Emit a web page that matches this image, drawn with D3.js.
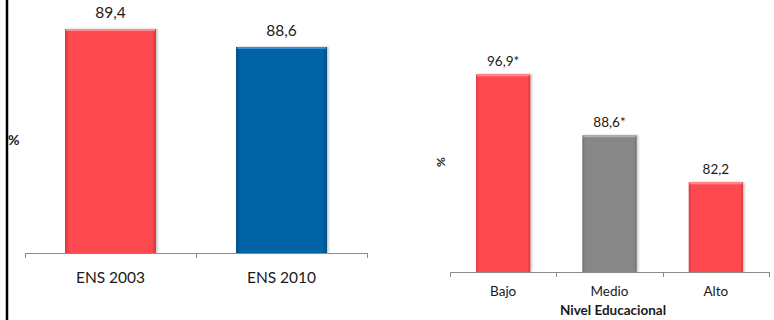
<!DOCTYPE html>
<html>
<head>
<meta charset="utf-8">
<script src="https://cdn.jsdelivr.net/npm/d3@7"></script>
<style>
  html, body { margin: 0; padding: 0; background: #fff; }
  svg { display: block; font-family: Lato, "Open Sans", sans-serif; }
</style>
</head>
<body>
<svg id="chart" width="774" height="320"></svg>
<script>
// Survey comparison (left) and education-level breakdown (right)
const surveyCats = ["ENS 2003", "ENS 2010"];
const surveyVals = [89.4, 88.6];
const surveyLabels = ["89,4", "88,6"];
const surveyColors = ["red", "blue"];

const eduCats = ["Bajo", "Medio", "Alto"];
const eduVals = [96.9, 88.6, 82.2];
const eduLabels = ["96,9*", "88,6*", "82,2"];
const eduColors = ["red", "grey", "red"];

const eduTitle = "Nivel Educacional";
const yTitle = "%";

const svg = d3.select("#chart");

// Bevelled bar fills: a horizontal gradient darker at the edges
const palette = {
  red:  { base: "#ff4a51", edge: "#d9353c", top: "#ff8a8e" },
  blue: { base: "#0563a6", edge: "#044f86", top: "#3a8fd0" },
  grey: { base: "#878787", edge: "#6a6a6a", top: "#b0b0b0" }
};
const defs = svg.append("defs");
Object.entries(palette).forEach(([k, c]) => {
  const g = defs.append("linearGradient").attr("id", "g-" + k)
    .attr("x1", 0).attr("x2", 1).attr("y1", 0).attr("y2", 0);
  g.append("stop").attr("offset", 0).attr("stop-color", c.edge);
  g.append("stop").attr("offset", 0.05).attr("stop-color", c.base);
  g.append("stop").attr("offset", 0.95).attr("stop-color", c.base);
  g.append("stop").attr("offset", 1).attr("stop-color", c.edge);
});
const shadow = defs.append("filter").attr("id", "shadow")
  .attr("x", "-10%").attr("y", "-10%").attr("width", "130%").attr("height", "120%");
shadow.append("feDropShadow").attr("dx", 1.5).attr("dy", 0).attr("stdDeviation", 1)
  .attr("flood-color", "#000").attr("flood-opacity", 0.25);

function drawPanel(cfg) {
  const x = d3.scaleBand().domain(cfg.cats).range([cfg.x0, cfg.x1])
    .paddingInner(cfg.pad).paddingOuter(cfg.pad / 2);
  const y = d3.scaleLinear().domain(cfg.domain).range([cfg.base, cfg.topY]);
  const g = svg.append("g");

  const data = cfg.cats.map((c, i) => ({ c, v: cfg.vals[i], l: cfg.labels[i], col: cfg.colors[i] }));

  const bars = g.selectAll("g.bar").data(data).join("g").attr("class", "bar");
  bars.append("rect")
    .attr("x", d => x(d.c)).attr("width", x.bandwidth())
    .attr("y", d => y(d.v)).attr("height", d => y(cfg.domain[0]) - y(d.v))
    .attr("fill", d => `url(#g-${d.col})`)
    .attr("filter", "url(#shadow)");
  // light top bevel
  bars.append("rect")
    .attr("x", d => x(d.c) + 1).attr("width", x.bandwidth() - 2)
    .attr("y", d => y(d.v)).attr("height", 2)
    .attr("fill", d => palette[d.col].top);

  bars.append("text")
    .attr("x", d => x(d.c) + x.bandwidth() / 2)
    .attr("y", d => y(d.v) - cfg.labelGap)
    .attr("text-anchor", "middle")
    .attr("font-size", cfg.fs).attr("fill", "#1a1a1a")
    .text(d => d.l);

  // category axis with boundary ticks
  const ax = g.append("g").attr("stroke", "#8c8c8c").attr("stroke-width", 1);
  ax.append("line").attr("x1", cfg.x0).attr("x2", cfg.x1)
    .attr("y1", cfg.base + 0.5).attr("y2", cfg.base + 0.5);
  const bounds = [cfg.x0].concat(cfg.cats.map(c => x(c) + x.bandwidth() + x.step() * x.paddingInner() / 2));
  bounds[bounds.length - 1] = cfg.x1;
  ax.selectAll("line.t").data(bounds).join("line").attr("class", "t")
    .attr("x1", d => Math.round(d) + 0.5).attr("x2", d => Math.round(d) + 0.5)
    .attr("y1", cfg.base).attr("y2", cfg.base + 5);

  g.selectAll("text.cat").data(cfg.cats).join("text").attr("class", "cat")
    .attr("x", d => x(d) + x.bandwidth() / 2)
    .attr("y", cfg.catY)
    .attr("text-anchor", "middle")
    .attr("font-size", cfg.fs).attr("fill", "#1a1a1a")
    .text(d => d);
  return g;
}

// Left panel
drawPanel({
  cats: surveyCats, vals: surveyVals, labels: surveyLabels, colors: surveyColors,
  x0: 25, x1: 367, pad: 0.468, domain: [79.44, 90], base: 253, topY: 15.5,
  labelGap: 11, fs: 15.5, catY: 283
});
svg.append("text").attr("x", 8).attr("y", 145)
  .attr("font-size", 14).attr("font-weight", "bold").attr("fill", "#1a1a1a")
  .text(yTitle);

// Right panel
drawPanel({
  cats: eduCats, vals: eduVals, labels: eduLabels, colors: eduColors,
  x0: 450, x1: 769, pad: 0.49, domain: [70, 100], base: 272, topY: 51.5,
  labelGap: 8, fs: 13.5, catY: 296
});
svg.append("text").attr("x", 613).attr("y", 315)
  .attr("text-anchor", "middle")
  .attr("font-size", 13.5).attr("font-weight", "bold").attr("fill", "#1a1a1a")
  .text(eduTitle);
svg.append("text")
  .attr("transform", "translate(445,162) rotate(-90)")
  .attr("text-anchor", "middle")
  .attr("font-size", 12).attr("font-weight", "bold").attr("fill", "#1a1a1a")
  .text(yTitle);

// Frame edge on the left
svg.append("line").attr("x1", 7).attr("x2", 7).attr("y1", 0).attr("y2", 320)
  .attr("stroke", "#000").attr("stroke-width", 2.5);
</script>
</body>
</html>
